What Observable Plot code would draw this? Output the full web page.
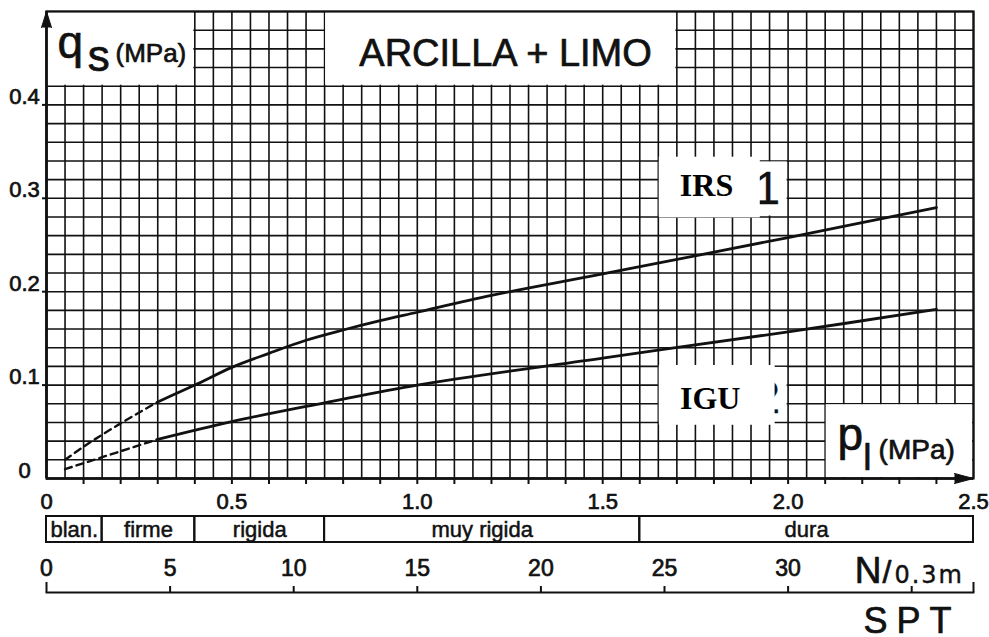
<!DOCTYPE html>
<html><head><meta charset="utf-8">
<script src="https://cdn.jsdelivr.net/npm/d3@7"></script>
<script src="https://cdn.jsdelivr.net/npm/@observablehq/plot@0.6"></script>
<style>
html,body{margin:0;padding:0;background:#fff;}
#chart svg{display:block;}
</style></head><body><div id="chart"></div>
<script>
// ---------- data ----------
const plTicks = [0, 0.5, 1.0, 1.5, 2.0, 2.5];
const plTickLabels = ["0", "0.5", "1.0", "1.5", "2.0", "2.5"];
const plMinorTicks = [0.1,0.2,0.3,0.4,0.5,0.6,0.7,0.8,0.9,1.0,1.1,1.2,1.3,1.4,1.5,1.6,1.7,1.8,1.9,2.0,2.1,2.2,2.3,2.4];
const qsTicks = [0, 0.1, 0.2, 0.3, 0.4];
const qsTickLabels = ["0", "0.1", "0.2", "0.3", "0.4"];

// curve 1 (IRS)
const irsDashPl = [0.05, 0.1, 0.2, 0.3];
const irsDashQs = [0.02, 0.034, 0.059, 0.082];
const irsPl = [0.3, 0.4, 0.5, 0.6, 0.7, 0.8, 0.9, 1.0, 1.2, 1.5, 2.0, 2.4];
const irsQs = [0.082, 0.100, 0.119, 0.134, 0.148, 0.159, 0.169, 0.178, 0.196, 0.219, 0.258, 0.290];
// curve 2 (IGU)
const iguDashPl = [0.05, 0.3];
const iguDashQs = [0.01, 0.042];
const iguPl = [0.3, 0.5, 0.75, 1.0, 1.5, 2.0, 2.4];
const iguQs = [0.042, 0.061, 0.081, 0.100, 0.129, 0.157, 0.181];

// consistency band
const bandLabels = ["blan.", "firme", "rigida", "muy rigida", "dura"];
const bandStart = [0, 0.15, 0.4, 0.75, 1.6];
const bandEnd = [0.15, 0.4, 0.75, 1.6, 2.5];

// SPT scale
const sptTicks = [5, 10, 15, 20, 25, 30, 35];
const sptEnds = [0, 37.5];
const sptLabelVals = [0, 5, 10, 15, 20, 25, 30];
const sptLabels = ["0", "5", "10", "15", "20", "25", "30"];

const titleText = "ARCILLA + LIMO";

// ---------- layout ----------
const W = 989, ML = 46, MR = 16;
const ink = "#111";
const sans = "Liberation Sans, Arial, sans-serif";
const serif = "Liberation Serif, Times New Roman, serif";
const heavy = {stroke: ink, strokeWidth: 0.7, paintOrder: "stroke"};

const pts = (xs, ys) => xs.map((x, i) => ({x, y: ys[i]}));
const box = (x1, x2, y1, y2) => ({x1, x2, y1, y2});
const label = (t, x, y, o = {}) => Plot.text([t], {x, y, text: d => d, lineAnchor: "bottom", fill: ink, ...heavy, ...o});

const blankBoxes = [
  box(0, 0.4, 0.42, 0.5),      // q_s label area
  box(0.75, 1.7, 0.42, 0.5),   // title area
  box(2.1, 2.5, 0, 0.08),      // p_l label area
  box(1.65, 2.0, 0.28, 0.34),  // curve-1 label area
  box(1.65, 2.0, 0.06, 0.12)   // curve-2 label area
];
const pasted = [box(1.65, 1.925, 0.279, 0.344), box(1.65, 1.965, 0.057, 0.121)];

const main = Plot.plot({
  width: W, height: 512,
  marginLeft: ML, marginRight: MR, marginTop: 11, marginBottom: 34,
  x: {domain: [0, 2.5], axis: null},
  y: {domain: [0, 0.5], axis: null},
  style: {fontFamily: sans, background: "#fff", color: ink},
  marks: [
    Plot.gridX({ticks: 50, stroke: ink, strokeOpacity: 1, strokeWidth: 1.6}),
    Plot.gridY({ticks: 25, stroke: ink, strokeOpacity: 1, strokeWidth: 1.6}),
    Plot.rect(blankBoxes, {x1: "x1", x2: "x2", y1: "y1", y2: "y2", fill: "#fff", inset: 1}),
    label("1", 1.944, 0.294, {fontSize: 46, textAnchor: "middle", strokeWidth: 0.3}),
    label("2", 1.944, 0.0706, {fontSize: 46, textAnchor: "middle", strokeWidth: 0.3}),
    Plot.rect(pasted, {x1: "x1", x2: "x2", y1: "y1", y2: "y2", fill: "#fff", insetLeft: 1}),
    label("IRS", 1.78, 0.3027, {fontSize: 32, fontFamily: serif, fontWeight: "bold", fill: "#000", stroke: "none", textAnchor: "middle"}),
    label("IGU", 1.79, 0.0749, {fontSize: 32, fontFamily: serif, fontWeight: "bold", fill: "#000", stroke: "none", textAnchor: "middle"}),
    Plot.frame({stroke: ink, strokeWidth: 2.2}),
    Plot.ruleY([0], {stroke: ink, strokeWidth: 2.6}),
    Plot.ruleX([0], {stroke: ink, strokeWidth: 2.6}),
    Plot.vector([1], {x: 0, y: 0.5, rotate: 0, length: 16, r: 5, shape: "spike", anchor: "end", fill: ink, stroke: ink, strokeWidth: 1}),
    Plot.vector([1], {x: 2.5, y: 0, rotate: 90, length: 19, r: 5, shape: "spike", anchor: "end", fill: ink, stroke: ink, strokeWidth: 1}),
    Plot.tickX(plMinorTicks, {x: d => d, insetTop: 467, insetBottom: -6, stroke: ink, strokeWidth: 2}),
    Plot.tickY(qsTicks.slice(1), {y: d => d, insetLeft: -4, insetRight: 927, stroke: ink, strokeWidth: 2}),
    Plot.line(pts(irsDashPl, irsDashQs), {x: "x", y: "y", curve: "monotone-x", stroke: ink, strokeWidth: 2.4, strokeDasharray: "7,5"}),
    Plot.line(pts(iguDashPl, iguDashQs), {x: "x", y: "y", stroke: ink, strokeWidth: 2.4, strokeDasharray: "7,5"}),
    Plot.line(pts(irsPl, irsQs), {x: "x", y: "y", curve: "catmull-rom", stroke: ink, strokeWidth: 2.8}),
    Plot.line(pts(iguPl, iguQs), {x: "x", y: "y", curve: "catmull-rom", stroke: ink, strokeWidth: 2.8}),
    Plot.text(qsTicks.map((v, i) => ({v, t: qsTickLabels[i]})), {y: "v", text: "t", frameAnchor: "left", dx: -22, dy: -1, lineAnchor: "bottom", textAnchor: "middle", fontSize: 22, fill: ink, ...heavy}),
    Plot.text(plTicks.map((v, i) => ({v, t: plTickLabels[i]})), {x: "v", text: "t", frameAnchor: "bottom", dy: 30, lineAnchor: "bottom", textAnchor: "middle", fontSize: 22, fill: ink, ...heavy}),
    label(titleText, 1.238, 0.4418, {fontSize: 38, textAnchor: "middle"}),
    label("q", 0.03, 0.4503, {fontSize: 46, textAnchor: "start"}),
    label("s", 0.111, 0.4368, {fontSize: 44, textAnchor: "start"}),
    label("(MPa)", 0.186, 0.4454, {fontSize: 26, textAnchor: "start"}),
    label("p", 2.133, 0.030, {fontSize: 46, textAnchor: "start"}),
    label("l", 2.203, 0.0086, {fontSize: 37, textAnchor: "start"}),
    label("(MPa)", 2.244, 0.0214, {fontSize: 28, textAnchor: "start"})
  ]
});

const bandRows = bandLabels.map((t, i) => ({t, x1: bandStart[i], x2: bandEnd[i]}));
const band = Plot.plot({
  width: W, height: 36,
  marginLeft: ML, marginRight: MR, marginTop: 4, marginBottom: 6,
  x: {domain: [0, 2.5], axis: null},
  style: {fontFamily: sans, background: "#fff", color: ink},
  marks: [
    Plot.rect(bandRows, {x1: "x1", x2: "x2", fill: "none", stroke: ink, strokeWidth: 2}),
    Plot.text(bandRows, {x: d => (d.x1 + d.x2) / 2, text: "t", frameAnchor: "middle", fontSize: 22, fill: ink, ...heavy, strokeWidth: 0.5})
  ]
});

const spt = Plot.plot({
  width: W, height: 89,
  marginLeft: ML, marginRight: MR, marginTop: 38, marginBottom: 45,
  x: {domain: [0, 37.5], axis: null},
  style: {fontFamily: sans, background: "#fff", color: ink},
  marks: [
    Plot.frame({anchor: "bottom", stroke: ink, strokeWidth: 2}),
    Plot.tickX(sptTicks, {x: d => d, stroke: ink, strokeWidth: 2}),
    Plot.tickX(sptEnds, {x: d => d, insetTop: -4, stroke: ink, strokeWidth: 2}),
    Plot.text(sptLabelVals.map((v, i) => ({v, t: sptLabels[i]})), {x: "v", text: "t", frameAnchor: "top", dy: -11, lineAnchor: "bottom", fontSize: 23, fill: ink, ...heavy}),
    Plot.text(["N"], {x: 32.7, text: d => d, frameAnchor: "bottom", dy: -10, lineAnchor: "bottom", textAnchor: "start", fontSize: 37, fill: ink, ...heavy}),
    Plot.text(["/"], {x: 33.82, text: d => d, frameAnchor: "bottom", dy: -10, lineAnchor: "bottom", textAnchor: "start", fontSize: 32, fill: ink, ...heavy}),
    Plot.text(["0.3m"], {x: 34.3, text: d => d, frameAnchor: "bottom", dy: -10, lineAnchor: "bottom", textAnchor: "start", fontSize: 24, fontFamily: "DejaVu Sans, sans-serif", fill: ink, ...heavy, strokeWidth: 0.4}),
    Plot.text(["SPT"], {x: 33.05, text: d => d, frameAnchor: "bottom", dy: 40, lineAnchor: "bottom", textAnchor: "start", fontSize: 36, fill: ink, ...heavy})
  ]
});
d3.select(spt).selectAll("text").filter(function () { return this.textContent === "SPT"; }).attr("letter-spacing", 9);
d3.select(spt).selectAll("text").filter(function () { return this.textContent === "0.3m"; }).attr("letter-spacing", 2);

const root = document.getElementById("chart");
root.append(main, band, spt);
</script></body></html>
